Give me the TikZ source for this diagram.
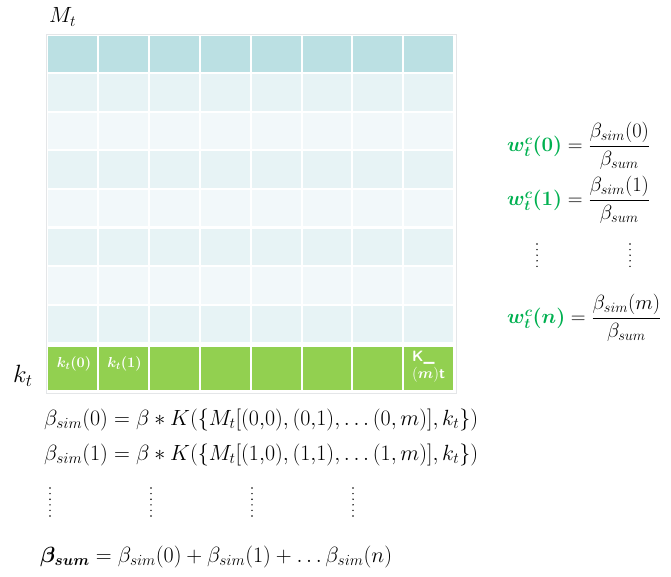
\RequirePackage{fix-cm}
\documentclass[tikz,border=0pt]{standalone}
\usepackage{amsmath,amssymb,bm}
\usepackage{tikz}
\usetikzlibrary{positioning}
\definecolor{hdrteal}{HTML}{BBE0E3}
\definecolor{rowdark}{HTML}{E7F3F5}
\definecolor{rowlight}{HTML}{F2F8FA}
\definecolor{keygreen}{HTML}{92D050}
\definecolor{wgreen}{HTML}{00B050}
\definecolor{frame}{HTML}{E4E6E8}
\tikzset{
  eqn/.style={inner sep=0pt, anchor=west, font=\fontsize{20.5}{25}\selectfont},
  keytext/.style={inner sep=0pt, text=white, font=\fontsize{14.5}{17}\selectfont},
  vdotline/.style={line width=1.6pt, line cap=round, dash pattern=on 0pt off 5.6pt}
}
\begin{document}
\begin{tikzpicture}[x=1pt, y=-1pt]
			\useasboundingbox (0,0) rectangle (671,577);
			% memory table
			\draw[frame, line width=0.8pt] (46,34) rectangle (456,393);
			\foreach \j in {0,...,7} {
				\ifnum\j=0 \def\rowcol{hdrteal}\else
				\ifodd\j \def\rowcol{rowdark}\else \def\rowcol{rowlight}\fi\fi
				\foreach \i in {0,...,7} {
					\fill[\rowcol] ({47+50.9*\i+1},{35+38.5*\j+1}) rectangle ({47+50.9*(\i+1)-1},{35+38.5*(\j+1)-1});
				}
			}
			% key row
			\foreach \i in {0,...,7} {
				\fill[keygreen] ({47+50.9*\i+1},347) rectangle ({47+50.9*(\i+1)-1},390);
			}
			\node[keytext] (k0) at (74,364) {$\bm{k_t(0)}$};
			\node[keytext] (k1) at (124.5,364) {$\bm{k_t(1)}$};
			\node[keytext, anchor=north west, align=left, font=\fontsize{15}{17}\selectfont\sffamily\bfseries] (km) at (412,351) {K\_\\$(\bm{m})$t};
			\node[eqn, font=\fontsize{22}{26}\selectfont] (Mt) at (49,17) {$M_t$};
			\node[eqn, font=\fontsize{25}{30}\selectfont] (kt) at (13,376) {$k_t$};
			% similarity terms
			\node[eqn, font=\fontsize{22}{26}\selectfont] (sim0) at (44,420) {$\beta_{sim}(0) = \beta * K(\{M_t[(0{,}0),(0{,}1),\ldots(0,m)],k_t\})$};
			\node[eqn, font=\fontsize{22}{26}\selectfont] (sim1) at (44,455) {$\beta_{sim}(1) = \beta * K(\{M_t[(1{,}0),(1{,}1),\ldots(1,m)],k_t\})$};
			\foreach \x [count=\n] in {50,151,252,353} {
				\coordinate (dt\n) at (\x,488);
				\coordinate (db\n) at (\x,517);
				\draw[vdotline] (dt\n) -- (db\n);
			}
			\node[eqn, font=\fontsize{22}{26}\selectfont] (bsum) at (40,557) {$\bm{\beta_{sum}} = \beta_{sim}(0) + \beta_{sim}(1) + \ldots\beta_{sim}(n)$};
			% weights
			\node[eqn] (w0) at (507,146) {$\color{wgreen}\bm{w_t^c(0)}\color{black} = \dfrac{\beta_{sim}(0)}{\beta_{sum}}$};
			\node[eqn] (w1) at (507,200) {$\color{wgreen}\bm{w_t^c(1)}\color{black} = \dfrac{\beta_{sim}(1)}{\beta_{sum}}$};
			\node[eqn] (wn) at (507,318) {$\color{wgreen}\bm{w_t^c(n)}\color{black} = \dfrac{\beta_{sim}(m)}{\beta_{sum}}$};
			\foreach \x [count=\n] in {537,630} {
				\coordinate (wt\n) at (\x,244);
				\coordinate (wb\n) at (\x,272);
				\draw[vdotline] (wt\n) -- (wb\n);
			}
		\end{tikzpicture}
\end{document}
